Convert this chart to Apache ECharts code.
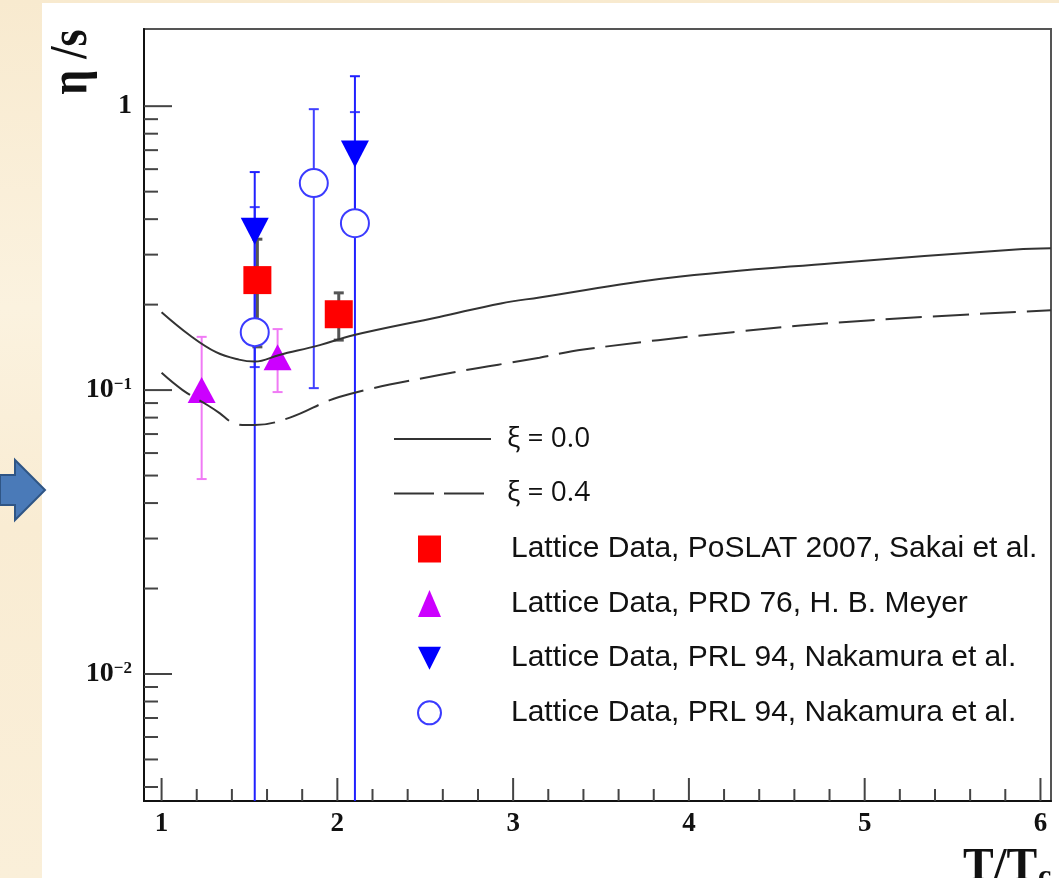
<!DOCTYPE html>
<html>
<head>
<meta charset="utf-8">
<title>eta/s vs T/Tc</title>
<script src="https://cdn.jsdelivr.net/npm/echarts/dist/echarts.min.js"></script>
<style>
  html, body { margin: 0; padding: 0; }
  body {
    width: 1059px; height: 878px; overflow: hidden; position: relative;
    background: linear-gradient(180deg, #f8eacf 0%, #fbf2df 35%, #f9ecd3 60%, #faefd9 100%);
  }
  #panel { position: absolute; left: 42px; top: 3px; width: 1017px; height: 875px; background: #fff; }
  #chart { position: absolute; left: 0; top: 0; width: 1059px; height: 878px; }
</style>
</head>
<body>
<div id="panel"></div>
<div id="chart"></div>
<script>
// curves
var xi0X = [1.0, 1.16, 1.31, 1.44, 1.53, 1.67, 1.90, 2.09, 2.58, 2.93, 3.15, 3.88, 4.82, 5.86, 6.06];
var xi0Y = [0.188, 0.156, 0.136, 0.128, 0.126, 0.133, 0.144, 0.156, 0.181, 0.202, 0.212, 0.248, 0.280, 0.313, 0.316];
var xi4X = [1.0, 1.12, 1.26, 1.33, 1.40, 1.48, 1.53, 1.73, 2.01, 2.58, 3.15, 3.40, 4.25, 5.02, 6.06];
var xi4Y = [0.115, 0.100, 0.0886, 0.083, 0.077, 0.0753, 0.0753, 0.080, 0.0945, 0.113, 0.130, 0.139, 0.160, 0.176, 0.191];

// lattice points: value, lower and upper error ends
var sakaiX = [1.545, 2.008];
var sakaiY = [0.244, 0.185];
var sakaiLo = [0.142, 0.150];
var sakaiHi = [0.34, 0.220];

var meyerX = [1.228, 1.66];
var meyerY = [0.100, 0.1306];
var meyerLo = [0.0486, 0.0984];
var meyerHi = [0.154, 0.164];

var nakTriX = [1.53, 2.10];
var nakTriY = [0.363, 0.678];
var nakTriLo = [0.001, 0.001];
var nakTriHi = [0.586, 1.275];

var nakCircX = [1.53, 1.866, 2.10];
var nakCircY = [0.160, 0.536, 0.387];
var nakCircLo = [0.1205, 0.1016, 0.387];
var nakCircHi = [0.441, 0.976, 0.953];

// axis ticks
var xMin = 0.9, xMax = 6.06, yMin = 0.00357, yMax = 1.87;
var xTicks = [1.0, 1.2, 1.4, 1.6, 1.8, 2.0, 2.2, 2.4, 2.6, 2.8, 3.0, 3.2, 3.4, 3.6, 3.8, 4.0,
  4.2, 4.4, 4.6, 4.8, 5.0, 5.2, 5.4, 5.6, 5.8, 6.0];
var yTicks = [0.004, 0.005, 0.006, 0.007, 0.008, 0.009, 0.01, 0.02, 0.03, 0.04, 0.05, 0.06, 0.07,
  0.08, 0.09, 0.1, 0.2, 0.3, 0.4, 0.5, 0.6, 0.7, 0.8, 0.9, 1];

var names = ["ξ = 0.0", "ξ = 0.4", "Lattice Data, PoSLAT 2007, Sakai et al.",
  "Lattice Data, PRD 76, H. B. Meyer", "Lattice Data, PRL 94, Nakamura et al.",
  "Lattice Data, PRL 94, Nakamura et al. "];

function zip(a, b) {
  return a.map(function (v, i) { return [v, b[i]]; });
}
function zip3(a, b, c) {
  return a.map(function (v, i) { return [v, b[i], c[i]]; });
}
function isMajor(v) {
  return Math.abs(v - Math.round(v)) < 1e-6;
}
function isDecade(v) {
  var l = Math.log10(v);
  return Math.abs(l - Math.round(l)) < 1e-6;
}

function errorBars(name, color, width, data) {
  return {
    type: "custom",
    name: name + "_err",
    silent: true,
    clip: true,
    encode: { x: 0, y: [1, 2] },
    data: data,
    renderItem: function (params, api) {
      var x = api.value(0);
      var lo = api.coord([x, api.value(1)]);
      var hi = api.coord([x, api.value(2)]);
      var st = { stroke: color, lineWidth: width };
      return {
        type: "group",
        children: [
          { type: "line", shape: { x1: lo[0], y1: lo[1], x2: hi[0], y2: hi[1] }, style: st },
          { type: "line", shape: { x1: hi[0] - 5, y1: hi[1], x2: hi[0] + 5, y2: hi[1] }, style: st },
          { type: "line", shape: { x1: lo[0] - 5, y1: lo[1], x2: lo[0] + 5, y2: lo[1] }, style: st }
        ]
      };
    }
  };
}

var chart = echarts.init(document.getElementById("chart"));

chart.setOption({
  animation: false,
  backgroundColor: "transparent",
  grid: {
    left: 144, top: 29, right: 8, bottom: 77,
    show: true, borderColor: "#555", borderWidth: 2, backgroundColor: "transparent"
  },
  xAxis: {
    type: "value",
    min: xMin,
    max: xMax,
    splitLine: { show: false },
    axisTick: { show: false },
    axisLine: { lineStyle: { color: "#111", width: 2 } },
    axisLabel: {
      margin: 10,
      color: "#111",
      fontFamily: "Liberation Serif",
      fontWeight: "bold",
      fontSize: 27,
      formatter: function (v) { return isMajor(v) ? String(Math.round(v)) : ""; }
    }
  },
  yAxis: {
    type: "log",
    logBase: 10,
    min: yMin,
    max: yMax,
    splitLine: { show: false },
    axisTick: { show: false },
    axisLine: { lineStyle: { color: "#111", width: 2 } },
    axisLabel: {
      margin: 12,
      color: "#111",
      formatter: function (v) {
        if (!isDecade(v)) return "";
        var e = Math.round(Math.log10(v));
        if (e === 0) return "{b|1}";
        return "{b|10}{s|\u2212" + (-e) + "}";
      },
      rich: {
        b: { fontFamily: "Liberation Serif", fontWeight: "bold", fontSize: 28, color: "#111" },
        s: { fontFamily: "Liberation Serif", fontWeight: "bold", fontSize: 17, color: "#111", verticalAlign: "top" }
      }
    }
  },
  legend: [
    {
      data: [
        { name: names[0] },
        { name: names[1], lineStyle: { type: [40, 10] } }
      ],
      orient: "vertical",
      left: 388,
      top: 420,
      itemWidth: 97,
      itemHeight: 28,
      itemGap: 26.5,
      selectedMode: false,
      itemStyle: { opacity: 0 },
      textStyle: { fontFamily: "Open Sans", fontSize: 28, color: "#111", padding: [0, 0, 0, 11] }
    },
    {
      data: [names[2], names[3], names[4], names[5]],
      orient: "vertical",
      left: 412,
      top: 529,
      itemWidth: 23,
      itemHeight: 27,
      itemGap: 24.6,
      selectedMode: false,
      textStyle: { fontFamily: "Liberation Sans", fontSize: 30, color: "#111", padding: [0, 0, 0, 65] }
    }
  ],
  graphic: [
    {
      type: "polygon",
      shape: { points: [[0, 475], [15, 475], [15, 460], [45, 490], [15, 520], [15, 505], [0, 505]] },
      style: { fill: "#4a7ab8", stroke: "#2f5585", lineWidth: 2 }
    },
    {
      type: "text",
      x: 72, y: 62,
      rotation: Math.PI / 2,
      scaleY: 1.2,
      style: {
        text: "η /s",
        align: "center",
        verticalAlign: "middle",
        font: 'bold 44px "Liberation Serif"',
        fill: "#111"
      }
    },
    {
      type: "text",
      x: 963, y: 845,
      style: { text: "T/T", align: "left", verticalAlign: "top", font: 'bold 46px "Liberation Serif"', fill: "#111" }
    },
    {
      type: "text",
      x: 1038, y: 862,
      style: { text: "c", align: "left", verticalAlign: "top", font: 'bold 30px "Liberation Serif"', fill: "#111" }
    }
  ],
  series: [
    {
      type: "custom",
      name: "yticks",
      silent: true,
      encode: { x: 0, y: 1 },
      data: yTicks.map(function (v) { return [xMin, v]; }),
      renderItem: function (params, api) {
        var v = api.value(1);
        var p = api.coord([xMin, v]);
        var len = isDecade(v) ? 28 : 14;
        return {
          type: "line",
          shape: { x1: p[0], y1: p[1], x2: p[0] + len, y2: p[1] },
          style: { stroke: "#444", lineWidth: 2 }
        };
      }
    },
    {
      type: "custom",
      name: "xticks",
      silent: true,
      encode: { x: 0, y: 1 },
      data: xTicks.map(function (v) { return [v, yMin]; }),
      renderItem: function (params, api) {
        var v = api.value(0);
        var p = api.coord([v, yMin]);
        var len = isMajor(v) ? 23 : 12;
        return {
          type: "line",
          shape: { x1: p[0], y1: p[1], x2: p[0], y2: p[1] - len },
          style: { stroke: "#444", lineWidth: 2 }
        };
      }
    },
    {
      type: "line",
      name: names[0],
      data: zip(xi0X, xi0Y),
      smooth: 0.4,
      symbol: "none",
      lineStyle: { color: "#333", width: 2 },
      itemStyle: { color: "#333" }
    },
    {
      type: "line",
      name: names[1],
      data: zip(xi4X, xi4Y),
      smooth: 0.4,
      symbol: "none",
      lineStyle: { color: "#333", width: 2, type: [36, 11] },
      itemStyle: { color: "#333" }
    },
    errorBars(names[2], "#555", 3, zip3(sakaiX, sakaiLo, sakaiHi)),
    {
      type: "scatter",
      name: names[2],
      data: zip(sakaiX, sakaiY),
      symbol: "rect",
      symbolSize: 28,
      itemStyle: { color: "#ff0000", opacity: 1 }
    },
    errorBars(names[3], "#f07af5", 2, zip3(meyerX, meyerLo, meyerHi)),
    {
      type: "scatter",
      name: names[3],
      data: zip(meyerX, meyerY),
      symbol: "triangle",
      symbolSize: [28, 26],
      itemStyle: { color: "#cc00ff", opacity: 1 }
    },
    errorBars(names[5], "#4040ff", 2, zip3(nakCircX, nakCircLo, nakCircHi)),
    {
      type: "scatter",
      name: names[5],
      data: zip(nakCircX, nakCircY),
      symbol: "circle",
      symbolSize: 28,
      itemStyle: { color: "#ffffff", borderColor: "#3b3bff", borderWidth: 2, opacity: 1 }
    },
    errorBars(names[4], "#2020ff", 2, zip3(nakTriX, nakTriLo, nakTriHi)),
    {
      type: "scatter",
      name: names[4],
      data: zip(nakTriX, nakTriY),
      symbol: "path://M0,0L10,0L5,10Z",
      symbolSize: [28, 27],
      itemStyle: { color: "#0000ff", opacity: 1 }
    }
  ]
});
</script>
</body>
</html>
